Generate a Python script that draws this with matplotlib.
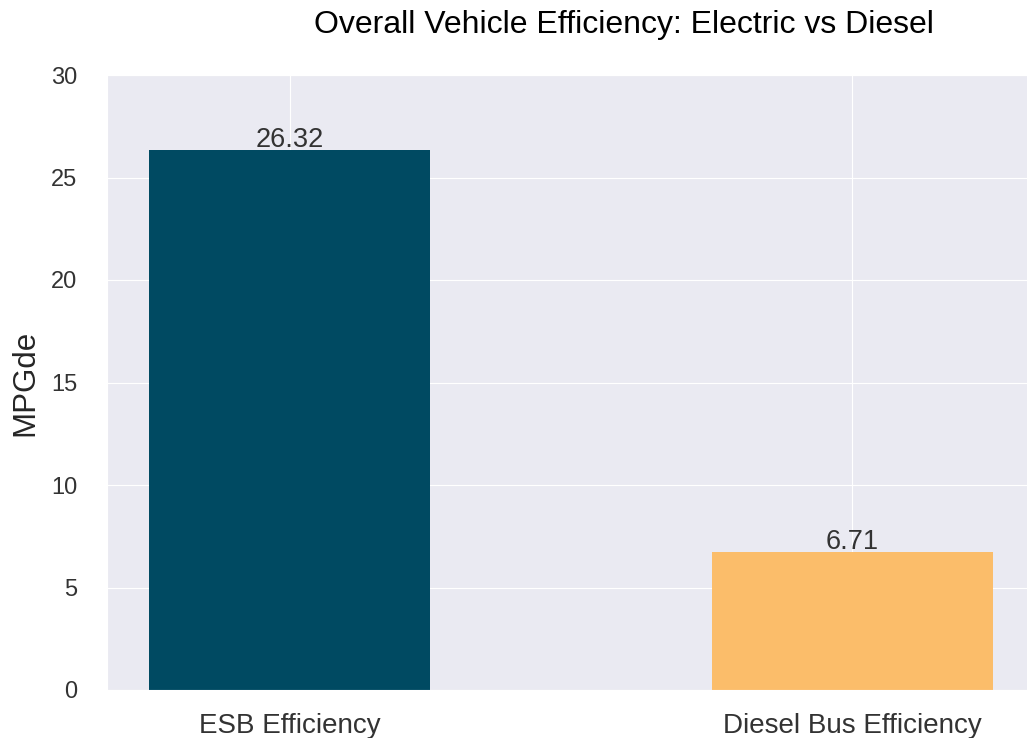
import matplotlib
matplotlib.use("Agg")
import matplotlib.pyplot as plt
import seaborn as sns

categories = ["ESB Efficiency", "Diesel Bus Efficiency"]
values = [26.32, 6.71]
colors = ["#004a62", "#fbbd6a"]
yticks = [0, 5, 10, 15, 20, 25, 30]

sns.set_style("darkgrid")
plt.rcParams["font.family"] = ["Liberation Sans", "DejaVu Sans"]

W, H = 1027, 738
fig = plt.figure(figsize=(W / 100, H / 100), dpi=100)
left, right, top, bottom = 107, 1035, 75, 690
ax = fig.add_axes([left / W, 1 - bottom / H, (right - left) / W, (bottom - top) / H])

bars = ax.bar(categories, values, width=0.5, color=colors, linewidth=0)
for b, v in zip(bars, values):
    ax.annotate(f"{v:.2f}", (b.get_x() + b.get_width() / 2, v),
                xytext=(0, 2.5), textcoords="offset points",
                ha="center", va="baseline", fontsize=19.5, color="#333333")

ax.set_ylim(0, 30)
ax.set_yticks(yticks)
ax.tick_params(axis="y", labelsize=17, pad=18, colors="#333333")
ax.tick_params(axis="x", labelsize=20, pad=13, colors="#333333")
ax.set_ylabel("MPGde", fontsize=22.5, color="#262626")
ax.yaxis.set_label_coords(-0.072, 0.5)

fig.text(624 / W, 1 - 25 / H, "Overall Vehicle Efficiency: Electric vs Diesel",
         ha="center", va="center", fontsize=23, color="black")

fig.savefig("out.png", dpi=100)
